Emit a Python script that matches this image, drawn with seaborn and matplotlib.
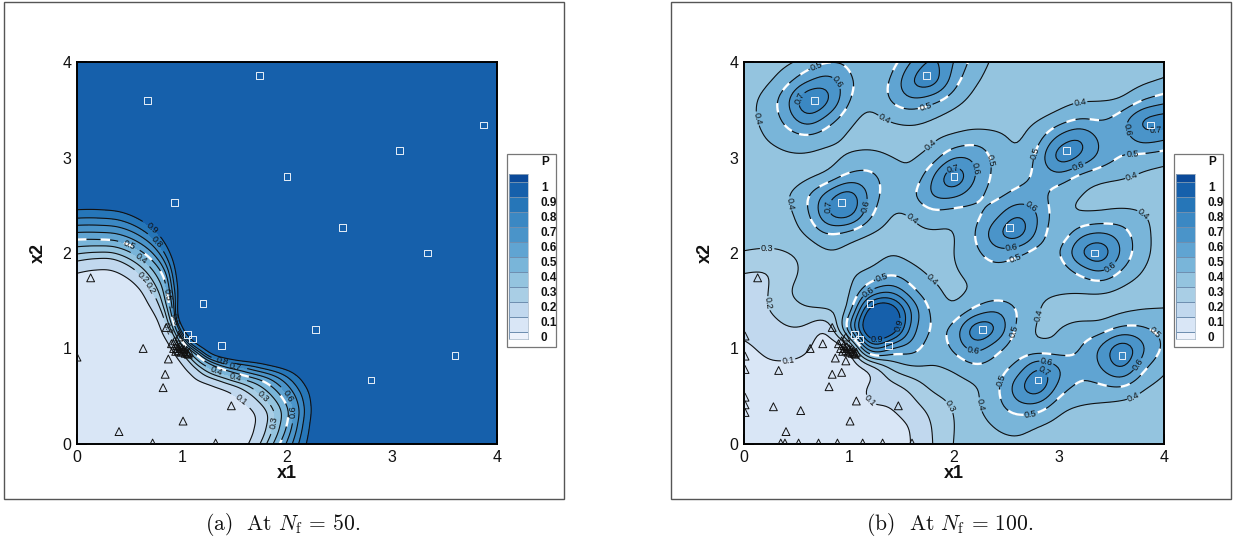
import numpy as np
import matplotlib
matplotlib.use("Agg")
import matplotlib.pyplot as plt
from matplotlib.patches import Rectangle
from matplotlib.ticker import MultipleLocator
import seaborn as sns

sns.set_theme(style="white")
plt.rcParams['font.family'] = ['Liberation Sans', 'DejaVu Sans']
plt.rcParams['mathtext.fontset'] = 'cm'

levels = [0, .1, .2, .3, .4, .5, .6, .7, .8, .9, 1]
band_colors = ['#edf2fb', '#d9e6f6', '#c1d8ee', '#a9cee5', '#94c4df', '#79b5d9',
               '#60a4d2', '#4a94c9', '#3b88c3', '#2676b8', '#1660ab', '#0b4a9a']

square_x = [.67, 1.74, 3.87, 3.07, 2.0, .93, 2.53, 3.34, 1.2, 2.27, 1.05, 1.1, 1.38, 3.6, 2.8]
square_y = [3.6, 3.86, 3.34, 3.07, 2.8, 2.53, 2.27, 2.0, 1.47, 1.2, 1.15, 1.1, 1.03, .93, .67]

cluster_x = [.90, .92, .94, .95, .96, .97, .98, .99, 1.0, 1.01, 1.02, 1.03, 1.04, 1.05, 1.06, 1.07, .93, .97]
cluster_y = [1.05, 1.0, .97, 1.03, 1.0, .98, 1.02, .96, 1.0, .97, .99, .95, .97, .95, .94, .96, 1.08, 1.12]

tri_a_x = [.13, .63, .87, .84, .82, 1.47, 1.01, .40, .72, 1.32, 0, .85] + cluster_x
tri_a_y = [1.74, 1.0, .89, .73, .59, .40, .24, .13, .01, .01, .91, 1.22] + cluster_y
tri_b_x = [.13, .84, .63, .75, .33, .87, .97, .84, .93, .81, .28, .54, 1.07, 1.47, 1.01, .40,
           .35, .39, .52, .71, .89, 1.13, 1.32, 1.6, .01, .01, .01, .01, .01, .01] + cluster_x
tri_b_y = [1.74, 1.22, 1.0, 1.05, .77, .90, .87, .73, .75, .60, .39, .35, .45, .40, .24, .13,
           .01, .01, .01, .01, .01, .01, .01, .01, 1.13, .92, .78, .49, .41, .33] + cluster_y

# Panel (a): distance from the origin at which P reaches 0.1, 0.5, 0.9, by direction
angle_deg = [0, 5, 10, 15, 20, 25, 30, 35, 40, 45, 50, 55, 60, 65, 70, 75, 80, 85, 90]
radius_p01 = [1.68, 1.74, 1.77, 1.70, 1.60, 1.47, 1.37, 1.34, 1.34, 1.36, 1.40, 1.46, 1.56, 1.66, 1.78, 1.86, 1.90, 1.88, 1.84]
radius_p05 = [1.93, 2.00, 2.04, 2.00, 1.90, 1.72, 1.58, 1.50, 1.47, 1.46, 1.50, 1.59, 1.74, 1.94, 2.06, 2.13, 2.16, 2.15, 2.14]
radius_p09 = [2.17, 2.21, 2.25, 2.25, 2.17, 1.96, 1.74, 1.60, 1.55, 1.53, 1.56, 1.66, 1.90, 2.13, 2.30, 2.40, 2.45, 2.45, 2.44]

# Panel (b): P read on a 0.2 grid, rows from x2 = 4 down to 0, columns x1 = 0 to 4
grid_axis = [0, .2, .4, .6, .8, 1, 1.2, 1.4, 1.6, 1.8, 2, 2.2, 2.4, 2.6, 2.8, 3, 3.2, 3.4, 3.6, 3.8, 4]
p_b = [
 [.35,.355,.37,.42,.48,.47,.40,.44,.59,.72,.60,.46,.38,.36,.35,.345,.345,.345,.345,.35,.37],
 [.35,.375,.46,.59,.66,.53,.43,.51,.72,.77,.54,.41,.36,.35,.345,.345,.35,.36,.365,.38,.41],
 [.355,.43,.565,.81,.73,.50,.42,.51,.59,.53,.44,.37,.355,.35,.35,.37,.39,.39,.40,.49,.56],
 [.37,.42,.53,.67,.55,.43,.37,.41,.42,.39,.36,.35,.355,.375,.39,.44,.50,.49,.56,.73,.76],
 [.35,.40,.44,.47,.43,.38,.355,.36,.375,.385,.42,.46,.43,.385,.46,.64,.72,.57,.55,.66,.61],
 [.35,.36,.385,.385,.37,.41,.44,.40,.39,.44,.60,.58,.47,.41,.53,.77,.70,.57,.49,.46,.43],
 [.345,.345,.35,.375,.42,.53,.53,.45,.42,.60,.81,.60,.47,.47,.52,.56,.46,.42,.41,.385,.37],
 [.34,.345,.39,.49,.66,.78,.57,.44,.48,.62,.62,.52,.47,.53,.53,.45,.40,.375,.36,.35,.345],
 [.34,.34,.37,.47,.71,.76,.52,.395,.40,.46,.44,.47,.56,.71,.60,.43,.40,.41,.43,.41,.35],
 [.335,.335,.35,.41,.50,.45,.39,.375,.385,.39,.39,.50,.68,.78,.57,.42,.57,.62,.55,.43,.35],
 [.30,.285,.295,.33,.39,.37,.36,.395,.37,.36,.40,.47,.56,.52,.45,.49,.71,.79,.58,.43,.35],
 [.20,.19,.25,.33,.36,.385,.41,.48,.43,.38,.39,.43,.46,.44,.41,.43,.52,.60,.48,.395,.345],
 [.17,.18,.29,.345,.37,.37,.60,.68,.52,.42,.38,.41,.43,.43,.415,.41,.405,.41,.375,.355,.345],
 [.15,.19,.25,.29,.30,.40,1.00,1.03,.68,.47,.41,.52,.60,.50,.40,.37,.36,.355,.38,.40,.41],
 [.12,.14,.19,.18,.09,.60,1.08,1.05,.64,.48,.53,.80,.72,.47,.39,.40,.44,.45,.53,.52,.46],
 [.08,.115,.13,.115,.03,.05,.76,.57,.55,.44,.52,.64,.52,.44,.43,.43,.50,.62,.80,.62,.47],
 [.06,.085,.085,.07,.03,.03,.10,.32,.39,.39,.41,.48,.46,.52,.72,.61,.52,.60,.73,.52,.41],
 [.05,.05,.05,.045,.04,.05,.12,.16,.23,.33,.36,.39,.47,.66,.80,.56,.48,.48,.50,.41,.365],
 [.03,.03,.03,.03,.035,.05,.10,.10,.17,.24,.31,.385,.46,.57,.57,.43,.395,.385,.37,.355,.345],
 [.02,.02,.02,.02,.025,.04,.05,.07,.105,.21,.30,.36,.41,.43,.40,.37,.355,.345,.34,.34,.34],
 [.01,.01,.01,.01,.02,.03,.04,.06,.10,.20,.31,.345,.37,.385,.37,.35,.34,.335,.335,.335,.335],
]

labels_a = [(.71,2.25),(.74,2.1),(.5,2.09),(.62,1.96),(.71,1.64),(.61,1.72),(.86,1.56),(.93,1.3),(.85,1.2),
            (1.39,.88),(1.51,.81),(1.33,.77),(1.51,.69),(1.59,.5),(1.76,.49),(2.0,.49),(2.08,.34),(1.89,.22)]
labels_b = [(.7,3.92),(.88,3.78),(.58,3.6),(.14,3.41),(1.31,3.35),(1.72,3.57),(.49,2.53),(.84,2.48),(1.2,2.48),
            (1.55,2.29),(.22,2.1),(3.2,3.59),(1.79,3.11),(1.99,2.88),(2.23,2.89),(2.34,2.97),(2.77,3.05),
            (3.17,2.95),(3.64,3.29),(3.92,3.31),(3.7,2.98),(3.7,2.79),(3.83,2.44),(2.75,2.51),(2.57,1.98),
            (3.5,1.84),(2.56,2.0),(2.8,1.35),(2.56,1.19),(2.18,.95),(3.93,1.18),(3.73,.85),(3.7,.52),(2.89,.9),
            (2.85,.75),(2.5,.65),(2.73,.32),(2.28,.42),(1.94,.38),(1.31,1.75),(1.8,1.73),(1.19,1.58),(1.49,1.24),
            (1.27,1.11),(.21,1.47),(.42,.88),(1.18,.43)]


def refine(a, n, axis):
    """Catmull-Rom resampling of a table, so the contours come out as smooth curves."""
    a = np.moveaxis(np.asarray(a, float), axis, 0)
    m = a.shape[0]
    t = np.linspace(0, m - 1, (m - 1) * n + 1)
    i = np.minimum(t.astype(int), m - 2)
    s = (t - i).reshape((-1,) + (1,) * (a.ndim - 1))
    p0, p1, p2, p3 = a[np.maximum(i - 1, 0)], a[i], a[i + 1], a[np.minimum(i + 2, m - 1)]
    out = .5 * (2 * p1 + (p2 - p0) * s + (2 * p0 - 5 * p1 + 4 * p2 - p3) * s ** 2 + (3 * p1 - p0 - 3 * p2 + p3) * s ** 3)
    return np.moveaxis(out, 0, axis)


def soften(z, sigma):
    """Round off the corners the coarse table leaves in the contours."""
    h = int(3 * sigma)
    k = np.exp(-.5 * (np.arange(-h, h + 1) / sigma) ** 2)
    k /= k.sum()
    for ax in (0, 1):
        pad = [(h, h) if a == ax else (0, 0) for a in (0, 1)]
        z = np.apply_along_axis(lambda r: np.convolve(r, k, mode='valid'), ax, np.pad(z, pad, mode='edge'))
    return z


def field_a():
    theta = np.radians(refine(angle_deg, 8, 0))
    r1, r5, r9 = refine(radius_p01, 8, 0), refine(radius_p05, 8, 0), refine(radius_p09, 8, 0)
    p = np.arange(.015, .97, .01)
    R = np.array([np.interp(p, [.015, .1, .5, .9, .91, .965], [.001, a, b, c, c + .06, 6.5])
                  for a, b, c in zip(r1, r5, r9)])
    Z = np.tile(p, (len(theta), 1))
    return R * np.cos(theta)[:, None], R * np.sin(theta)[:, None], Z


def field_b():
    z = np.array(p_b)[::-1]
    z = soften(refine(refine(z, 8, 0), 8, 1), 2.8)
    z = np.clip(z, .005, .985)  # P stays inside its 0..1 range
    g = refine(grid_axis, 8, 0)
    X, Y = np.meshgrid(g, g)
    return X, Y, z


W, H = 1239, 542
fig = plt.figure(figsize=(W / 100, H / 100), dpi=100)
fig.patch.set_facecolor('white')


def panel(x0, frame_x0, X, Y, Z, tx, ty, lab, caption):
    fig.add_artist(Rectangle((frame_x0 / W, 1 - 499 / H), 560 / W, 497 / H, fill=False,
                             edgecolor='#555555', linewidth=1.0, transform=fig.transFigure, zorder=-5))
    ax = fig.add_axes([x0 / W, 1 - 444 / H, 420 / W, 382 / H])
    ax.contourf(X, Y, Z, levels=levels, colors=band_colors, extend='both')
    cs = ax.contour(X, Y, Z, levels=levels[1:-1], colors='#111111', linewidths=.8, linestyles='solid')
    ax.clabel(cs, manual=lab, inline=True, inline_spacing=1, fontsize=6.5, fmt='%g', colors='#111111')
    ax.contour(X, Y, Z, levels=[.5], colors='white', linewidths=1.7, linestyles=[(0, (4, 6))])
    sns.scatterplot(x=tx, y=ty, marker='^', s=32, facecolors='none', edgecolors='#111111',
                    linewidth=.7, ax=ax, zorder=5)
    sns.scatterplot(x=square_x, y=square_y, marker='s', s=24, facecolors='none', edgecolors='#e8f0f8',
                    linewidth=.7, ax=ax, zorder=6)
    ax.set_xlim(0, 4)
    ax.set_ylim(0, 4)
    ax.xaxis.set_major_locator(MultipleLocator(1))
    ax.yaxis.set_major_locator(MultipleLocator(1))
    ax.xaxis.set_minor_locator(MultipleLocator(.2))
    ax.yaxis.set_minor_locator(MultipleLocator(.2))
    ax.tick_params(which='major', direction='in', length=7.5, width=1.3, color='black', labelsize=11.5,
                   pad=4, left=True, bottom=True, labelcolor='#111111')
    ax.tick_params(which='minor', direction='in', length=3.6, width=.7, color='#555555', left=True, bottom=True)
    for s in ax.spines.values():
        s.set_linewidth(1.4)
        s.set_color('black')
    ax.set_xlabel('x1', fontsize=13, fontweight='bold', labelpad=0, color='#111111')
    ax.set_ylabel('x2', fontsize=13, fontweight='bold', labelpad=11, color='#111111')
    fig.text((frame_x0 + 279) / W, 1 - 525 / H, caption, ha='center', va='center', fontsize=15.5,
             family='cmr10', color='#111111')
    # legend
    fig.add_artist(Rectangle(((x0 + 429.5) / W, 1 - 346.7 / H), 49.5 / W, 192.5 / H, fill=False,
                             edgecolor='#777777', linewidth=.9, transform=fig.transFigure, zorder=-5))
    lg = fig.add_axes([(x0 + 432) / W, 1 - 339 / H, 18.7 / W, 165 / H])
    edges = np.array([-.05] + levels + [1.055])
    lg.pcolormesh([0, 1], edges, np.arange(12).reshape(-1, 1), cmap=matplotlib.colors.ListedColormap(band_colors),
                  edgecolors='#6f8fb0', linewidth=.4)
    lg.set_xticks([])
    lg.set_yticks(levels)
    lg.set_yticklabels([f'{v:g}' for v in levels], fontweight='bold', fontsize=8.5, color='#111111', va='top')
    lg.yaxis.tick_right()
    lg.tick_params(axis='y', length=0, pad=9.5)
    for s in lg.spines.values():
        s.set_linewidth(.4)
        s.set_color('#8aa0b8')
    fig.text((x0 + 468) / W, 1 - 162 / H, 'P', fontsize=8.5, fontweight='bold', ha='center', va='center', color='#111111')


Xa, Ya, Za = field_a()
Xb, Yb, Zb = field_b()
panel(77, 4, Xa, Ya, Za, tri_a_x, tri_a_y, labels_a, r'(a)  At $N_{\mathrm{f}}$ = 50.')
panel(744, 671, Xb, Yb, Zb, tri_b_x, tri_b_y, labels_b, r'(b)  At $N_{\mathrm{f}}$ = 100.')

fig.savefig('out.png', dpi=100)
